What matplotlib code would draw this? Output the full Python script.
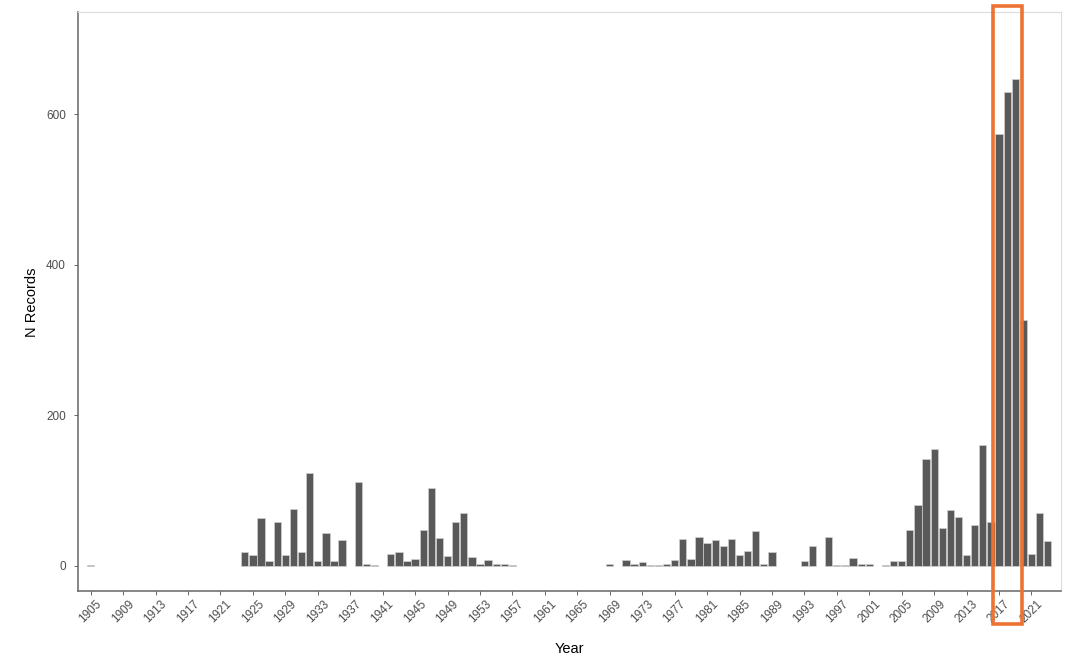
import matplotlib
matplotlib.use('Agg')
import matplotlib.pyplot as plt
from matplotlib.patches import Rectangle

### Data: number of records per year (years with no records are left out)
years = [1905,
         1924, 1925, 1926, 1927, 1928, 1929, 1930, 1931, 1932, 1933, 1934, 1935, 1936,
         1938, 1939, 1940,
         1942, 1943, 1944, 1945, 1946, 1947, 1948, 1949, 1950, 1951, 1952, 1953,
         1954, 1955, 1956, 1957,
         1969, 1971, 1972, 1973, 1974, 1975, 1976, 1977, 1978, 1979, 1980, 1981,
         1982, 1983, 1984, 1985, 1986, 1987, 1988, 1989,
         1993, 1994, 1996, 1997, 1998, 1999, 2000, 2001,
         2003, 2004, 2005, 2006, 2007, 2008, 2009, 2010, 2011, 2012, 2013, 2014,
         2015, 2016, 2017, 2018, 2019, 2020, 2021, 2022, 2023]
counts = [1,
          18, 14, 64, 7, 59, 14, 75, 18, 124, 6, 44, 7, 35,
          111, 3, 1,
          16, 19, 7, 9, 48, 104, 37, 13, 59, 70, 12, 2,
          8, 2, 2, 1,
          2, 8, 2, 5, 1, 1, 2, 8, 36, 9, 38, 30,
          35, 27, 36, 15, 20, 46, 3, 18,
          7, 26, 39, 1, 1, 11, 3, 2,
          1, 7, 7, 48, 81, 142, 155, 50, 74, 65, 15, 55,
          160, 59, 574, 629, 647, 326, 16, 70, 33]

xtick_years = list(range(1905, 2022, 4))
ytick_vals = [0, 200, 400, 600]

### Highlighted span (orange box)
box_start, box_end = 2016.2, 2019.8

plt.rcParams['font.family'] = ['Liberation Sans', 'DejaVu Sans']

fig = plt.figure(figsize=(10.74, 6.55), dpi=100)
ax = fig.add_axes([0.0729, 0.0974, 0.9147, 0.8838])

ax.bar(years, counts, width=0.9, color='#595959', edgecolor='#d0d0d0',
       linewidth=0.5, zorder=2)

ax.set_xlim(1903.47, 2024.6)
ax.set_ylim(-33.5, 735)

ax.set_xticks(xtick_years)
ax.set_xticklabels([str(y) for y in xtick_years], rotation=45, ha='center',
                   fontsize=8.5, color='#4d4d4d')
ax.set_yticks(ytick_vals)
ax.set_yticklabels([str(v) for v in ytick_vals], fontsize=8.5, color='#4d4d4d')
ax.tick_params('both', length=3, width=0.6, color='#4d4d4d')
ax.tick_params('x', pad=2)
ax.tick_params('y', pad=6)

for side in ['left', 'bottom']:
    ax.spines[side].set_color('#666666')
    ax.spines[side].set_linewidth(1.1)
for side in ['top', 'right']:
    ax.spines[side].set_color('#dcdcdc')
    ax.spines[side].set_linewidth(0.8)

ax.set_xlabel('Year', fontsize=10.5, color='black', labelpad=12)
ax.set_ylabel('N Records', fontsize=10.5, color='black', labelpad=5)

### Orange highlight box around the peak years
ax.add_patch(Rectangle((box_start, -77), box_end - box_start, 820,
                       fill=False, edgecolor='#ec7333', linewidth=2.6,
                       clip_on=False, zorder=5))

plt.savefig('out.png', dpi=100)
